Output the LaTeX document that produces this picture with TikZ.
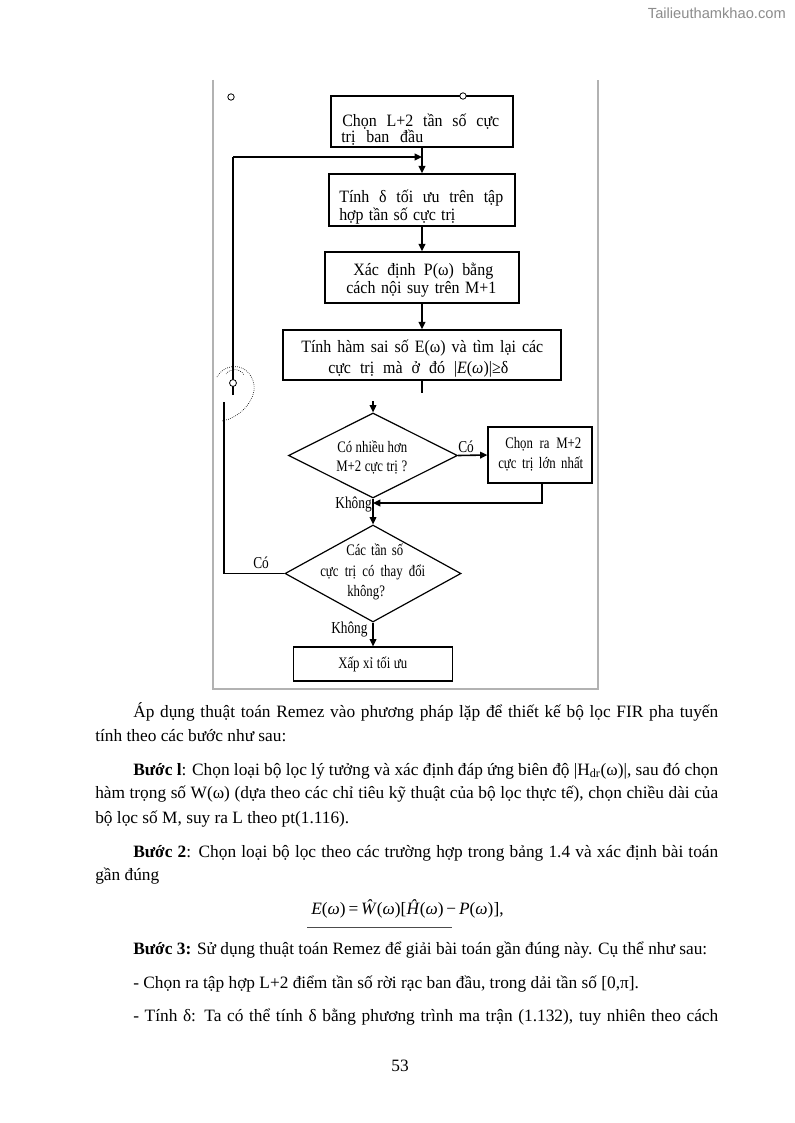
\documentclass[tikz,border=0pt]{standalone}
\usepackage{fontspec}
\setmainfont{Liberation Serif}
\newfontfamily\wmfamily{Liberation Sans}
\newfontfamily\condfamily[FakeStretch=0.8]{Liberation Serif}
\newfontfamily\boxfamily[FakeStretch=0.92]{Liberation Serif}
\usetikzlibrary{shapes.geometric,arrows.meta}
\newdimen\pxu \pxu=0.75pt
\newcommand\jline[2]{\makebox[#1\pxu][s]{#2}}
\newcommand\fntbox{\boxfamily\fontsize{13}{15}\selectfont}
\newcommand\fntsmall{\condfamily\fontsize{12}{14}\selectfont}
\newcommand\fntlab{\condfamily\fontsize{12.5}{14}\selectfont}
\newcommand\fntbody{\fontsize{13}{16}\selectfont}
\newcommand\fntwm{\wmfamily\fontsize{11}{13}\selectfont}
\begin{document}
\begin{tikzpicture}[x=0.75pt,y=-0.75pt,
  boxn/.style={draw, line width=1.2pt, inner sep=0pt},
  dian/.style={draw, shape=diamond, line width=0.9pt, inner sep=0pt},
  con/.style={line width=1.2pt},
  arr/.style={con, -{Triangle[length=5.5pt,width=5pt]}},
  tb/.style={font=\fntbox, inner sep=0pt, anchor=base west},
  ts/.style={font=\fntsmall, inner sep=0pt, anchor=base west},
  tl/.style={font=\fntlab, inner sep=0pt, anchor=base west},
  tx/.style={font=\fntbody, inner sep=0pt, anchor=base west},
  frame/.style={draw=black!30, line width=1.1pt},
  open/.style={draw, fill=white, line width=0.6pt}
]
\fill[white] (0,0) rectangle (794,1123);
\useasboundingbox (0,0) rectangle (794,1123);

% watermark
\node[font=\fntwm, text=black!45, inner sep=0pt, anchor=base east] (wm) at (786,19) {Tailieuthamkhao.com};

% frame
\draw[frame] (213,80) -- (213,689) -- (598,689) -- (598,80);

% boxes
\node[boxn, minimum width=136.5pt, minimum height=38.25pt] (b1) at (422,121.5) {};
\node[boxn, minimum width=139.5pt, minimum height=39pt] (b2) at (422,200) {};
\node[boxn, minimum width=145.5pt, minimum height=38.25pt] (b3) at (422,277.5) {};
\node[boxn, minimum width=208.5pt, minimum height=37.5pt] (b4) at (422,355) {};
\node[dian, minimum width=126.75pt, minimum height=63.75pt] (d1) at (373,455.5) {};
\node[boxn, line width=0.9pt, minimum width=78pt, minimum height=42pt] (b5) at (540,455) {};
\node[dian, minimum width=132pt, minimum height=72.75pt] (d2) at (373,573.5) {};
\node[boxn, line width=0.9pt, minimum width=119.25pt, minimum height=25.5pt] (b6) at (373,664) {};

% box texts
\node[tb] (t1a) at (342,127) {\jline{157}{Chọn L+2 tần số cực}};
\node[tb] (t1b) at (341,143) {\jline{82}{trị ban đầu}};
\node[tb] (t2a) at (339,203) {\jline{164}{Tính δ tối ưu trên tập}};
\node[tb] (t2b) at (339,220) {\jline{116}{hợp tần số cực trị}};
\node[tb] (t3a) at (353,275) {\jline{140}{Xác định P(ω) bằng}};
\node[tb] (t3b) at (346,293) {\jline{150}{cách nội suy trên M+1}};
\node[tb] (t4a) at (301,352) {\jline{242}{Tính hàm sai số E(ω) và tìm lại các}};
\node[tb] (t4b) at (328,373) {\jline{180}{cực trị mà ở đó |\textit{E}(\textit{ω})|≥δ}};
\node[ts] (td1a) at (337,452) {\jline{70}{Có nhiều hơn}};
\node[ts] (td1b) at (336,471) {\jline{71}{M+2 cực trị ?}};
\node[ts] (t5a) at (505,448) {\jline{76}{Chọn ra M+2}};
\node[ts] (t5b) at (498,468) {\jline{85}{cực trị lớn nhất}};
\node[ts] (td2a) at (346,555) {\jline{57}{Các tần số}};
\node[ts] (td2b) at (320,576) {\jline{105}{cực trị có thay đổi}};
\node[ts] (td2c) at (347,596) {không?};
\node[ts] (t6) at (338,668) {\jline{69}{Xấp xỉ tối ưu}};

% labels
\node[tl] (lc1) at (458,452) {Có};
\node[tl, anchor=base east] (lk1) at (372,508) {Không};
\node[tl] (lc2) at (253,568) {Có};
\node[tl] (lk2) at (331,633) {Không};

% coordinates
\coordinate (fbL) at (233,157);
\coordinate (fbR) at (422,157);
\coordinate (b4end) at (422,393);
\coordinate (d1in) at (373,401);
\coordinate (b5o) at (542,483);
\coordinate (j1c) at (542,503);
\coordinate (j1) at (373,503);
\coordinate (lp1) at (224,573.5);
\coordinate (lp2) at (224,402);
\coordinate (lp3) at (233,395);

% connectors
\draw[arr] (b1.south) -- (b2.north);
\draw[arr] (fbL) -- (fbR);
\draw[arr] (b2.south) -- (b3.north);
\draw[arr] (b3.south) -- (b4.north);
\draw[con] (b4.south) -- (b4end);
\draw[arr] (d1in) -- (d1.north);
\draw[arr] (d1.east) -- (b5.west);
\draw[arr] (b5o) -- (j1c) -- (j1);
\draw[arr] (d1.south) -- (d2.north);
\draw[con] (d2.west) -- (lp1) -- (lp2);
\draw[con] (lp3) -- (fbL);
\draw[arr] (d2.south) -- (b6.north);

% small circles and scan marks
\draw[open] (231,97) circle[radius=2.4pt];
\draw[open] (463,96) circle[radius=2.4pt];
\draw[open] (233,383) circle[radius=2.6pt];
\draw[densely dotted, line width=0.5pt] (217,377) .. controls (225,362) and (250,362) .. (254,385) .. controls (256,400) and (240,418) .. (222,421);
\draw[densely dotted, line width=0.5pt] (226,374) .. controls (230,368) and (240,368) .. (244,375);

% body text
\node[tx] (p1) at (133,717) {\jline{585}{Áp dụng thuật toán Remez vào phương pháp lặp để thiết kế bộ lọc FIR pha tuyến}};
\node[tx] (p2) at (95,741) {tính theo các bước như sau:};
\node[tx] (p3) at (133,775) {\jline{585}{\textbf{Bước l}: Chọn loại bộ lọc lý tưởng và xác định đáp ứng biên độ |H\textsubscript{dr}(ω)|, sau đó chọn}};
\node[tx] (p4) at (95,798) {\jline{623}{hàm trọng số W(ω) (dựa theo các chỉ tiêu kỹ thuật của bộ lọc thực tế), chọn chiều dài của}};
\node[tx] (p5) at (95,823) {bộ lọc số M, suy ra L theo pt(1.116).};
\node[tx] (p6) at (133,857) {\jline{585}{\textbf{Bước 2}: Chọn loại bộ lọc theo các trường hợp trong bảng 1.4 và xác định bài toán}};
\node[tx] (p7) at (95,880) {gần đúng};
\node[tx] (eq) at (311,914) {\textit{E}(\textit{ω})\,=\,\textit{Ŵ}(\textit{ω})[\textit{Ĥ}(\textit{ω})\,−\,\textit{P}(\textit{ω})],};
\coordinate (ulA) at (307,927);
\coordinate (ulB) at (452,927);
\draw[line width=0.6pt, black!70] (ulA) -- (ulB);
\node[tx] (p8) at (133,954) {\textbf{Bước 3:} Sử dụng thuật toán Remez để giải bài toán gần đúng này. Cụ thể như sau:};
\node[tx] (p9) at (133,988) {- Chọn ra tập hợp L+2 điểm tần số rời rạc ban đầu, trong dải tần số [0,π].};
\node[tx] (p10) at (133,1021) {\jline{585}{- Tính δ: Ta có thể tính δ bằng phương trình ma trận (1.132), tuy nhiên theo cách}};
\node[tx, anchor=base] (pg) at (400,1071) {53};
\end{tikzpicture}
\end{document}
